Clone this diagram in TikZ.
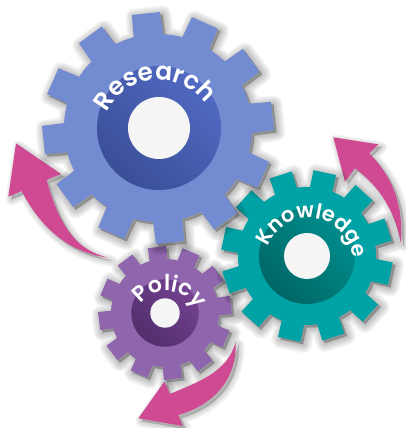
\documentclass[tikz,border=0pt]{standalone}
\usepackage{fontspec}
\setmainfont{Poppins}[BoldFont={Poppins SemiBold}]
\usetikzlibrary{decorations.text}
\definecolor{pinkA}{HTML}{CF4A92}
\definecolor{blueG}{HTML}{738BD1}
\definecolor{blueD}{HTML}{3B4F97}
\definecolor{blueL}{HTML}{5069C2}
\definecolor{tealG}{HTML}{00A3A5}
\definecolor{tealD}{HTML}{006666}
\definecolor{tealL}{HTML}{008E8E}
\definecolor{purpG}{HTML}{8F65AE}
\definecolor{purpD}{HTML}{512E6C}
\definecolor{purpL}{HTML}{744291}
\definecolor{holeC}{HTML}{F5F5F5}
\tikzset{
  softshadow/.style={draw=black,fill=black,opacity=.03,transparency group,line join=round,line width=#1},
  curvedlabel/.style={decorate,decoration={text along path,text align=center,raise=0pt,text={#1}}}
}
% center x, y, outer, root, phase, half angle at tip, half angle at root
\newcommand{\gearoutline}[7]{
  ([shift={(#1,#2)}]{#5-#7}:#4)
  foreach \i [evaluate=\i as \a using #5+30*\i] in {0,...,11} {
    -- ([shift={(#1,#2)}]{\a-#7}:#4) -- ([shift={(#1,#2)}]{\a-#6}:#3) -- ([shift={(#1,#2)}]{\a+#6}:#3) -- ([shift={(#1,#2)}]{\a+#7}:#4)
    arc[start angle={\a+#7},end angle={\a+30-#7},radius=#4]
  } -- cycle
}
\newcommand{\gearshadow}[7]{
  \begin{scope}[shift={(2.5,-2.5)}]
    \foreach \w in {18,16,14,12,10,8,6,4,2,.1} {
      \path[softshadow=\w pt] \gearoutline{#1}{#2}{#3}{#4}{#5}{#6}{#7};
    }
  \end{scope}
}
\newcommand{\arrowshadow}[1]{
  \begin{scope}[shift={(3,-3)}]
    \foreach \w in {12,10,8,6,4,2,.1} {
      \path[softshadow=\w pt] #1;
    }
  \end{scope}
  \fill[pinkA] #1;
}
\newcommand{\txtfmt}[1]{|\fontsize{#1}{#1}\selectfont\bfseries\color{white}|}
\begin{document}
\begin{tikzpicture}[x=1pt,y=1pt]
\useasboundingbox (0,0) rectangle (405,428);
% arrows
\arrowshadow{(16,284.7) -- (61,254) -- (46.7,248) .. controls (62,190) and (85,176) .. (108.3,170.3) .. controls (65,176) and (38,205) .. (21.7,237) -- (8.3,231.3) -- cycle}
\arrowshadow{(333.3,290.7) -- (378.3,283.7) -- (369.3,274.7) .. controls (398,245) and (403,215) .. (400.7,185.3) .. controls (394,222) and (375,245) .. (355,259.7) -- (345,246.3) -- cycle}
% policy
\gearshadow{165}{115}{67}{54}{97}{7.8}{9.5}
\fill[purpG] \gearoutline{165}{115}{67}{54}{97}{7.8}{9.5};
\shade[left color=purpD,right color=purpL,shading angle=135] (165,115) circle (33.7);
\fill[holeC] (165,115) circle (14.7);
\arrowshadow{(235.7,86.3) .. controls (228,55) and (195,45) .. (170,34) -- (164.3,46.3) -- (138.3,9.7) -- (182.7,2) -- (178.3,13) .. controls (210,22) and (237,45) .. (235.7,86.3) -- cycle}
% knowledge
\gearshadow{307}{172}{86}{69}{78}{7.7}{9.5}
\fill[tealG] \gearoutline{307}{172}{86}{69}{78}{7.7}{9.5};
\shade[left color=tealD,right color=tealL,shading angle=135] (307,172) circle (48);
\fill[holeC] (307,172) circle (23);
% research
\gearshadow{158}{300}{116}{94}{96}{7}{9}
\fill[blueG] \gearoutline{158}{300}{116}{94}{96}{7}{9};
\shade[left color=blueD,right color=blueL,shading angle=135] (159,300) circle (62);
\fill[holeC] (159,300) circle (31);
% labels
\path[curvedlabel={\txtfmt{25}Research}] (159,290) ++(185:58) arc[start angle=185,end angle=5,radius=58];
\path[curvedlabel={\txtfmt{21}Knowledge}] (309,166) ++(190:44) arc[start angle=190,end angle=-26,radius=44];
\path[curvedlabel={\txtfmt{22}Policy}] (167,105) ++(175:32) arc[start angle=175,end angle=-5,radius=32];
\end{tikzpicture}
\end{document}
